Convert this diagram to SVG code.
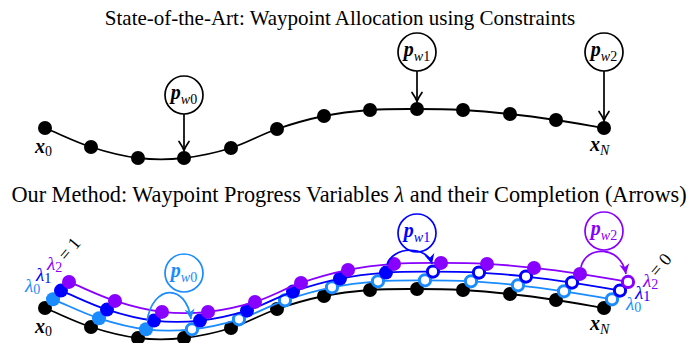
<svg xmlns="http://www.w3.org/2000/svg" width="699" height="343" viewBox="0 0 699 343">
<style>
text{font-family:"Liberation Serif","Times New Roman",serif;}
.title{font-size:21px;text-anchor:middle;fill:#000}
.traj{fill:none;stroke-width:1.8}
.k{stroke:#000}.c0{stroke:#1a8cff}.c1{stroke:#0000ff}.c2{stroke:#8800ff}
.dk{fill:#000}.d0{fill:#1a8cff}.d1{fill:#0000ff}.d2{fill:#8800ff}
.r0{fill:#fff;stroke:#1a8cff;stroke-width:3}
.r1{fill:#fff;stroke:#0000ff;stroke-width:3}
.r2{fill:#fff;stroke:#8800ff;stroke-width:3}
.wp{fill:#fff;stroke-width:1.7}
.lbl{font-size:20px;text-anchor:middle}
.bi{font-weight:bold;font-style:italic}
.it{font-style:italic}
.sub{font-size:14px}
.arr{fill:none;stroke-width:1.7}
</style>
<defs>
<path id="traj" d="M45,128 C60.3,134.3 75.5,142 91,147 C106.5,152 122.5,156.2 138,158 C153.5,159.8 168.5,159.7 184,158 C199.5,156.3 215.5,152.8 231,148 C246.5,143.2 261.5,134.3 277,129 C292.5,123.7 308.5,119.2 324,116 C339.5,112.8 354.5,111.2 370,110 C385.5,108.8 401.5,109 417,109 C432.5,109 447.5,109.2 463,110 C478.5,110.8 494.5,112.3 510,114 C525.5,115.7 540.3,117.7 556,120 C571.7,122.3 588,125.3 604,128"/>
<marker id="open" markerUnits="userSpaceOnUse" markerWidth="14" markerHeight="14" refX="11" refY="7" orient="auto" overflow="visible">
<path d="M2,2 Q7,5.5 11,7 Q7,8.5 2,12" fill="none" stroke="#000" stroke-width="1.7" stroke-linecap="round"/>
</marker>
<marker id="st0" markerUnits="userSpaceOnUse" markerWidth="12" markerHeight="12" refX="10" refY="5" orient="auto" overflow="visible">
<path d="M0,0 L10,5 L0,10 L3,5 Z" fill="#1a8cff"/>
</marker>
<marker id="st1" markerUnits="userSpaceOnUse" markerWidth="12" markerHeight="12" refX="10" refY="5" orient="auto" overflow="visible">
<path d="M0,0 L10,5 L0,10 L3,5 Z" fill="#0000ff"/>
</marker>
<marker id="st2" markerUnits="userSpaceOnUse" markerWidth="12" markerHeight="12" refX="10" refY="5" orient="auto" overflow="visible">
<path d="M0,0 L10,5 L0,10 L3,5 Z" fill="#8800ff"/>
</marker>
</defs>

<text class="title" x="340" y="24.5">State-of-the-Art: Waypoint Allocation using Constraints</text>
<text class="title" x="349" y="202" style="font-size:22.3px">Our Method: Waypoint Progress Variables <tspan class="it">λ</tspan> and their Completion (Arrows)</text>

<!-- top trajectory -->
<g id="traj-top">
<use href="#traj" class="traj k"/>
<g class="dk">
<circle cx="45" cy="128" r="7"/><circle cx="91" cy="147" r="7"/><circle cx="138" cy="158" r="7"/><circle cx="184" cy="158" r="7"/><circle cx="231" cy="148" r="7"/><circle cx="277" cy="129" r="7"/><circle cx="324" cy="116" r="7"/><circle cx="370" cy="110" r="7"/><circle cx="417" cy="109" r="7"/><circle cx="463" cy="110" r="7"/><circle cx="510" cy="114" r="7"/><circle cx="556" cy="120" r="7"/><circle cx="604" cy="128" r="7"/>
</g>
<text x="35" y="153" font-size="20"><tspan class="bi">x</tspan><tspan class="sub" dy="3">0</tspan></text>
<text x="590" y="151" font-size="20"><tspan class="bi">x</tspan><tspan class="sub it" dy="4">N</tspan></text>
</g>

<g id="pw0-top">
<circle class="wp k" cx="184" cy="95" r="19"/>
<text class="lbl" x="184" y="99"><tspan class="bi">p</tspan><tspan class="sub it" dy="4.5">w</tspan><tspan class="sub">0</tspan></text>
</g>
<g id="pw1-top">
<circle class="wp k" cx="417" cy="52" r="19"/>
<text class="lbl" x="417" y="56"><tspan class="bi">p</tspan><tspan class="sub it" dy="4.5">w</tspan><tspan class="sub">1</tspan></text>
</g>
<g id="pw2-top">
<circle class="wp k" cx="604" cy="52" r="19"/>
<text class="lbl" x="604" y="56"><tspan class="bi">p</tspan><tspan class="sub it" dy="4.5">w</tspan><tspan class="sub">2</tspan></text>
</g>

<!-- bottom trajectories -->
<g id="traj-x" transform="translate(0,180)">
<use href="#traj" class="traj k"/>
<g class="dk">
<circle cx="45" cy="128" r="7"/><circle cx="91" cy="147" r="7"/><circle cx="138" cy="158" r="7"/><circle cx="184" cy="158" r="7"/><circle cx="231" cy="148" r="7"/><circle cx="277" cy="129" r="7"/><circle cx="324" cy="116" r="7"/><circle cx="370" cy="110" r="7"/><circle cx="417" cy="109" r="7"/><circle cx="463" cy="110" r="7"/><circle cx="510" cy="114" r="7"/><circle cx="556" cy="120" r="7"/><circle cx="604" cy="128" r="7"/>
</g>
</g>
<g id="traj-l0" transform="translate(8,171.3)">
<use href="#traj" class="traj c0"/>
<circle class="d0" cx="45" cy="128" r="7"/><circle class="d0" cx="91" cy="147" r="7"/><circle class="d0" cx="138" cy="158" r="7"/>
<circle class="r0" cx="184" cy="158" r="5.6"/><circle class="r0" cx="231" cy="148" r="5.6"/><circle class="r0" cx="277" cy="129" r="5.6"/><circle class="r0" cx="324" cy="116" r="5.6"/><circle class="r0" cx="370" cy="110" r="5.6"/><circle class="r0" cx="417" cy="109" r="5.6"/><circle class="r0" cx="463" cy="110" r="5.6"/><circle class="r0" cx="510" cy="114" r="5.6"/><circle class="r0" cx="556" cy="120" r="5.6"/><circle class="r0" cx="604" cy="128" r="5.6"/>
</g>
<g id="traj-l1" transform="translate(16,162.6)">
<use href="#traj" class="traj c1"/>
<circle class="d1" cx="45" cy="128" r="7"/><circle class="d1" cx="91" cy="147" r="7"/><circle class="d1" cx="138" cy="158" r="7"/><circle class="d1" cx="184" cy="158" r="7"/><circle class="d1" cx="231" cy="148" r="7"/><circle class="d1" cx="277" cy="129" r="7"/><circle class="d1" cx="324" cy="116" r="7"/><circle class="d1" cx="370" cy="110" r="7"/>
<circle class="r1" cx="417" cy="109" r="5.6"/><circle class="r1" cx="463" cy="110" r="5.6"/><circle class="r1" cx="510" cy="114" r="5.6"/><circle class="r1" cx="556" cy="120" r="5.6"/><circle class="r1" cx="604" cy="128" r="5.6"/>
</g>
<g id="traj-l2" transform="translate(24,153.9)">
<use href="#traj" class="traj c2"/>
<circle class="d2" cx="45" cy="128" r="7"/><circle class="d2" cx="91" cy="147" r="7"/><circle class="d2" cx="138" cy="158" r="7"/><circle class="d2" cx="184" cy="158" r="7"/><circle class="d2" cx="231" cy="148" r="7"/><circle class="d2" cx="277" cy="129" r="7"/><circle class="d2" cx="324" cy="116" r="7"/><circle class="d2" cx="370" cy="110" r="7"/><circle class="d2" cx="417" cy="109" r="7"/><circle class="d2" cx="463" cy="110" r="7"/><circle class="d2" cx="510" cy="114" r="7"/><circle class="d2" cx="556" cy="120" r="7"/>
<circle class="r2" cx="604" cy="128" r="5.6"/>
</g>

<g id="labels-bottom">
<text x="35" y="333" font-size="20"><tspan class="bi">x</tspan><tspan class="sub" dy="3">0</tspan></text>
<text x="590" y="330" font-size="20"><tspan class="bi">x</tspan><tspan class="sub it" dy="4">N</tspan></text>
<text x="25" y="292" font-size="19" fill="#1a8cff"><tspan class="it">λ</tspan><tspan class="sub" dy="2">0</tspan></text>
<text x="36" y="281" font-size="19" fill="#0000ff"><tspan class="it">λ</tspan><tspan class="sub" dy="2">1</tspan></text>
<text x="47" y="270" font-size="19" fill="#8800ff"><tspan class="it">λ</tspan><tspan class="sub" dy="2">2</tspan></text>
<text transform="translate(66,255) rotate(-50)" x="-5" y="4.5" font-size="18">= 1</text>
<text x="626" y="310" font-size="19" fill="#1a8cff"><tspan class="it">λ</tspan><tspan class="sub" dy="2">0</tspan></text>
<text x="635" y="299" font-size="19" fill="#0000ff"><tspan class="it">λ</tspan><tspan class="sub" dy="2">1</tspan></text>
<text x="643" y="287" font-size="19" fill="#8800ff"><tspan class="it">λ</tspan><tspan class="sub" dy="2">2</tspan></text>
<text transform="translate(657,271) rotate(-50)" x="-5" y="4.5" font-size="18">= 0</text>
</g>

<g id="pw0-bottom">
<circle class="wp c0" cx="184" cy="273" r="19"/>
<text class="lbl" x="184" y="277" fill="#1a8cff"><tspan class="bi">p</tspan><tspan class="sub it" dy="4.5">w</tspan><tspan class="sub">0</tspan></text>
</g>
<g id="pw1-bottom">
<circle class="wp c1" cx="417" cy="233" r="19"/>
<text class="lbl" x="417" y="237" fill="#0000ff"><tspan class="bi">p</tspan><tspan class="sub it" dy="4.5">w</tspan><tspan class="sub">1</tspan></text>
</g>
<g id="pw2-bottom">
<circle class="wp c2" cx="604" cy="231" r="19"/>
<text class="lbl" x="604" y="235" fill="#8800ff"><tspan class="bi">p</tspan><tspan class="sub it" dy="4.5">w</tspan><tspan class="sub">2</tspan></text>
</g>

<g id="connectors">
<line class="arr k" x1="184" y1="114" x2="184" y2="150.5" marker-end="url(#open)"/>
<line class="arr k" x1="417" y1="71" x2="417" y2="101.5" marker-end="url(#open)"/>
<line class="arr k" x1="604" y1="71" x2="604" y2="120.5" marker-end="url(#open)"/>
<path class="arr c0" d="M147,321 C153,284 186,283 191,319" marker-end="url(#st0)"/>
<path class="arr c1" d="M387,265 C392,246 427,245 432,264" marker-end="url(#st1)"/>
<path class="arr c2" d="M581,267 C586,245 621,245 626,274" marker-end="url(#st2)"/>
</g>
</svg>
